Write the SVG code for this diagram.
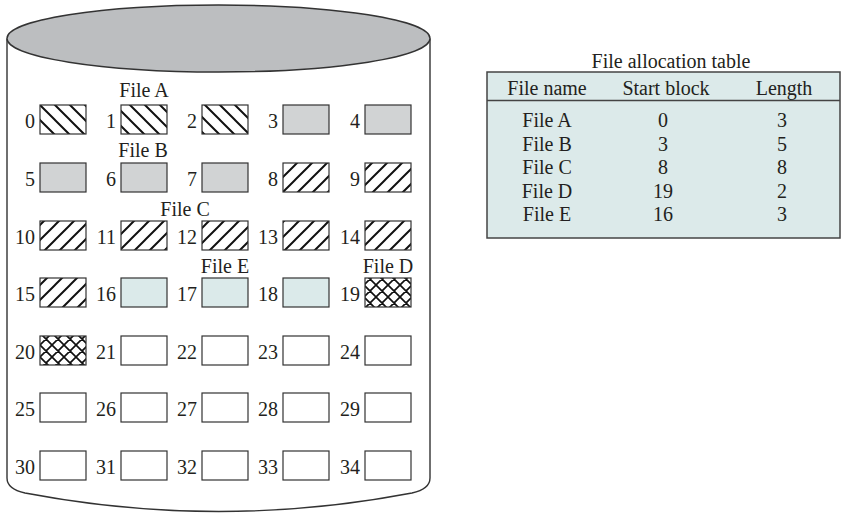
<svg xmlns="http://www.w3.org/2000/svg" width="841" height="514" viewBox="0 0 841 514">
<defs>
<pattern id="hA" patternUnits="userSpaceOnUse" width="15" height="15" x="40" y="105">
<path d="M0,0 L15,15 M-5,10 L5,20 M10,-5 L20,5" stroke="#111" stroke-width="2" fill="none"/>
</pattern>
<pattern id="hC" patternUnits="userSpaceOnUse" width="15" height="15" x="40" y="105">
<path d="M0,15 L15,0 M-5,5 L5,-5 M10,20 L20,10" stroke="#111" stroke-width="2" fill="none"/>
</pattern>
<pattern id="hD" patternUnits="userSpaceOnUse" width="12" height="12" x="40" y="105">
<path d="M0,0 L12,12 M-3,9 L3,15 M9,-3 L15,3 M0,12 L12,0 M-3,3 L3,-3 M9,15 L15,9" stroke="#111" stroke-width="1.7" fill="none"/>
</pattern>
</defs>
<style>
text{font-family:"Liberation Serif","Times New Roman",serif;font-size:20px;fill:#231f20}
.b{stroke:#333;stroke-width:1.2}
.w{fill:#fff}
.g{fill:#d1d3d4}
.e{fill:#dbeaea}
.a{fill:url(#hA)}
.c{fill:url(#hC)}
.d{fill:url(#hD)}
.n{text-anchor:end}
.m{text-anchor:middle}
</style>
<g id="disk">
<path d="M7,38.5 L7,478 Q7,489 25,493 Q219,530 412,493 Q430,489 430,478 L430,38.5" fill="#fff" stroke="#333" stroke-width="1.4"/>
<ellipse cx="218.5" cy="38.5" rx="211.5" ry="33.5" fill="#bcbec0" stroke="#333" stroke-width="1.4"/>
</g>
<g id="labels">
<text class="m" x="144" y="97">File A</text>
<text class="m" x="143" y="157">File B</text>
<text class="m" x="185" y="216">File C</text>
<text class="m" x="225" y="273">File E</text>
<text class="m" x="388" y="273">File D</text>
</g>
<g id="block0"><rect class="b a" x="40" y="105" width="46" height="29"/><text class="n" x="35" y="128">0</text></g>
<g id="block1"><rect class="b a" x="121" y="105" width="46" height="29"/><text class="n" x="116" y="128">1</text></g>
<g id="block2"><rect class="b a" x="202" y="105" width="46" height="29"/><text class="n" x="197" y="128">2</text></g>
<g id="block3"><rect class="b g" x="283" y="105" width="46" height="29"/><text class="n" x="278" y="128">3</text></g>
<g id="block4"><rect class="b g" x="365" y="105" width="46" height="29"/><text class="n" x="360" y="128">4</text></g>
<g id="block5"><rect class="b g" x="40" y="163" width="46" height="29"/><text class="n" x="35" y="186">5</text></g>
<g id="block6"><rect class="b g" x="121" y="163" width="46" height="29"/><text class="n" x="116" y="186">6</text></g>
<g id="block7"><rect class="b g" x="202" y="163" width="46" height="29"/><text class="n" x="197" y="186">7</text></g>
<g id="block8"><rect class="b c" x="283" y="163" width="46" height="29"/><text class="n" x="278" y="186">8</text></g>
<g id="block9"><rect class="b c" x="365" y="163" width="46" height="29"/><text class="n" x="360" y="186">9</text></g>
<g id="block10"><rect class="b c" x="40" y="221" width="46" height="29"/><text class="n" x="35" y="244">10</text></g>
<g id="block11"><rect class="b c" x="121" y="221" width="46" height="29"/><text class="n" x="116" y="244">11</text></g>
<g id="block12"><rect class="b c" x="202" y="221" width="46" height="29"/><text class="n" x="197" y="244">12</text></g>
<g id="block13"><rect class="b c" x="283" y="221" width="46" height="29"/><text class="n" x="278" y="244">13</text></g>
<g id="block14"><rect class="b c" x="365" y="221" width="46" height="29"/><text class="n" x="360" y="244">14</text></g>
<g id="block15"><rect class="b c" x="40" y="278" width="46" height="29"/><text class="n" x="35" y="301">15</text></g>
<g id="block16"><rect class="b e" x="121" y="278" width="46" height="29"/><text class="n" x="116" y="301">16</text></g>
<g id="block17"><rect class="b e" x="202" y="278" width="46" height="29"/><text class="n" x="197" y="301">17</text></g>
<g id="block18"><rect class="b e" x="283" y="278" width="46" height="29"/><text class="n" x="278" y="301">18</text></g>
<g id="block19"><rect class="b d" x="365" y="278" width="46" height="29"/><text class="n" x="360" y="301">19</text></g>
<g id="block20"><rect class="b d" x="40" y="336" width="46" height="29"/><text class="n" x="35" y="359">20</text></g>
<g id="block21"><rect class="b w" x="121" y="336" width="46" height="29"/><text class="n" x="116" y="359">21</text></g>
<g id="block22"><rect class="b w" x="202" y="336" width="46" height="29"/><text class="n" x="197" y="359">22</text></g>
<g id="block23"><rect class="b w" x="283" y="336" width="46" height="29"/><text class="n" x="278" y="359">23</text></g>
<g id="block24"><rect class="b w" x="365" y="336" width="46" height="29"/><text class="n" x="360" y="359">24</text></g>
<g id="block25"><rect class="b w" x="40" y="393" width="46" height="29"/><text class="n" x="35" y="416">25</text></g>
<g id="block26"><rect class="b w" x="121" y="393" width="46" height="29"/><text class="n" x="116" y="416">26</text></g>
<g id="block27"><rect class="b w" x="202" y="393" width="46" height="29"/><text class="n" x="197" y="416">27</text></g>
<g id="block28"><rect class="b w" x="283" y="393" width="46" height="29"/><text class="n" x="278" y="416">28</text></g>
<g id="block29"><rect class="b w" x="365" y="393" width="46" height="29"/><text class="n" x="360" y="416">29</text></g>
<g id="block30"><rect class="b w" x="40" y="451" width="46" height="29"/><text class="n" x="35" y="474">30</text></g>
<g id="block31"><rect class="b w" x="121" y="451" width="46" height="29"/><text class="n" x="116" y="474">31</text></g>
<g id="block32"><rect class="b w" x="202" y="451" width="46" height="29"/><text class="n" x="197" y="474">32</text></g>
<g id="block33"><rect class="b w" x="283" y="451" width="46" height="29"/><text class="n" x="278" y="474">33</text></g>
<g id="block34"><rect class="b w" x="365" y="451" width="46" height="29"/><text class="n" x="360" y="474">34</text></g>
<g id="fat">
<text class="m" x="671" y="68">File allocation table</text>
<rect x="487" y="72" width="353" height="166" fill="#dceaea" stroke="#444" stroke-width="1.5"/>
<line x1="487" y1="100.5" x2="840" y2="100.5" stroke="#444" stroke-width="1.5"/>
<text class="m" x="547" y="95">File name</text>
<text class="m" x="666" y="95">Start block</text>
<text class="m" x="784" y="95">Length</text>
<text class="m" x="547" y="127">File A</text><text class="m" x="663" y="127">0</text><text class="m" x="782" y="127">3</text>
<text class="m" x="547" y="150.5">File B</text><text class="m" x="663" y="150.5">3</text><text class="m" x="782" y="150.5">5</text>
<text class="m" x="547" y="174">File C</text><text class="m" x="663" y="174">8</text><text class="m" x="782" y="174">8</text>
<text class="m" x="547" y="197.5">File D</text><text class="m" x="663" y="197.5">19</text><text class="m" x="782" y="197.5">2</text>
<text class="m" x="547" y="221">File E</text><text class="m" x="663" y="221">16</text><text class="m" x="782" y="221">3</text>
</g>
</svg>
